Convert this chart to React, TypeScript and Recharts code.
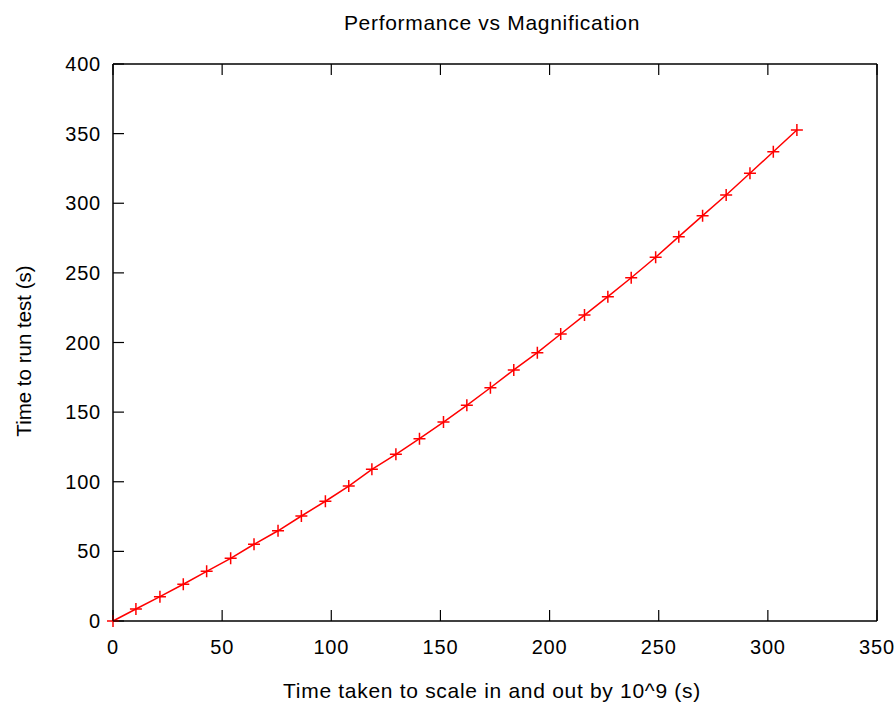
import { LineChart, Line, XAxis, YAxis } from "recharts";

// magnification time (x) vs time to run test (y)
const scaleTime = [
  0, 10.5, 21.5, 32.2, 42.9, 53.9, 64.6, 75.6, 86.3, 97.3, 108, 118.6, 129.6, 140.4, 151.4,
  162.1, 172.9, 183.6, 194.4, 205.1, 216, 226.7, 237.4, 248.6, 259.2, 270.1, 280.9, 291.8,
  302.5, 313.3,
];
const runTime = [
  0, 8.6, 17.5, 26.4, 35.7, 45.0, 55.1, 64.8, 75.4, 86.0, 96.9, 108.9, 119.7, 130.9, 142.9,
  154.9, 167.5, 180.3, 192.7, 206.1, 219.7, 232.9, 246.5, 261.2, 276.0, 291.1, 305.9, 321.5,
  337.0, 352.6,
];
const xTicks = [0, 50, 100, 150, 200, 250, 300, 350];
const yTicks = [0, 50, 100, 150, 200, 250, 300, 350, 400];

const data = scaleTime.map((x, i) => ({ x, y: runTime[i] }));

const FONT = "'Liberation Sans', Arial, sans-serif";
const TICK = 11;
const textStyle = { fontFamily: FONT, fontSize: 20, letterSpacing: 0.8, fill: "#000" };

function BottomTick({ x, y, payload }: any) {
  return (
    <g>
      <line x1={x} y1={y} x2={x} y2={y - TICK} stroke="#000" strokeWidth={1.2} />
      <text x={x} y={y + 33} textAnchor="middle" style={textStyle}>
        {payload.value}
      </text>
    </g>
  );
}

function TopTick({ x, y }: any) {
  return <line x1={x} y1={y} x2={x} y2={y + TICK} stroke="#000" strokeWidth={1.2} />;
}

function LeftTick({ x, y, payload }: any) {
  return (
    <g>
      <line x1={x} y1={y} x2={x + TICK} y2={y} stroke="#000" strokeWidth={1.2} />
      <text x={x - 12} y={y + 7} textAnchor="end" style={textStyle}>
        {payload.value}
      </text>
    </g>
  );
}

function RightTick({ x, y }: any) {
  return <line x1={x} y1={y} x2={x - TICK} y2={y} stroke="#000" strokeWidth={1.2} />;
}

function PlusDot({ cx, cy }: any) {
  return (
    <path
      d={`M${cx - 6},${cy}L${cx + 6},${cy}M${cx},${cy - 6}L${cx},${cy + 6}`}
      stroke="#ff0000"
      strokeWidth={1.5}
      fill="none"
    />
  );
}

const labelStyle: React.CSSProperties = {
  position: "absolute",
  fontFamily: FONT,
  fontSize: 21,
  letterSpacing: 0.7,
  lineHeight: 1,
  whiteSpace: "nowrap",
  color: "#000",
};

export default function App() {
  return (
    <div style={{ position: "absolute", left: 0, top: 0, width: 895, height: 703, background: "#fff" }}>
      <LineChart width={895} height={703} data={data} margin={{ top: 63, right: 17, bottom: 81, left: 112 }}>
        <XAxis
          xAxisId="b"
          dataKey="x"
          type="number"
          domain={[0, 350]}
          ticks={xTicks}
          height={1}
          tickSize={0}
          tickMargin={0}
          tick={<BottomTick />}
          axisLine={{ stroke: "#000", strokeWidth: 1.5 }}
          interval={0}
        />
        <XAxis
          xAxisId="t"
          dataKey="x"
          type="number"
          orientation="top"
          domain={[0, 350]}
          ticks={xTicks}
          height={1}
          tickSize={0}
          tickMargin={0}
          tick={<TopTick />}
          axisLine={{ stroke: "#000", strokeWidth: 1.5 }}
          interval={0}
        />
        <YAxis
          yAxisId="l"
          type="number"
          domain={[0, 400]}
          ticks={yTicks}
          width={1}
          tickSize={0}
          tickMargin={0}
          tick={<LeftTick />}
          axisLine={{ stroke: "#000", strokeWidth: 1.5 }}
          interval={0}
        />
        <YAxis
          yAxisId="r"
          type="number"
          orientation="right"
          domain={[0, 400]}
          ticks={yTicks}
          width={1}
          tickSize={0}
          tickMargin={0}
          tick={<RightTick />}
          axisLine={{ stroke: "#000", strokeWidth: 1.5 }}
          interval={0}
        />
        <Line
          xAxisId="b"
          yAxisId="l"
          type="linear"
          dataKey="y"
          stroke="#ff0000"
          strokeWidth={1.5}
          dot={<PlusDot />}
          activeDot={false}
          isAnimationActive={false}
        />
      </LineChart>
      <div style={{ ...labelStyle, left: 492, top: 22, transform: "translate(-50%, -50%)" }}>
        Performance vs Magnification
      </div>
      <div style={{ ...labelStyle, left: 492, top: 690, transform: "translate(-50%, -50%)" }}>
        Time taken to scale in and out by 10^9 (s)
      </div>
      <div
        style={{
          ...labelStyle,
          fontSize: 20.5,
          letterSpacing: 0,
          left: 24,
          top: 351,
          transform: "translate(-50%, -50%) rotate(-90deg)",
        }}
      >
        Time to run test (s)
      </div>
    </div>
  );
}
